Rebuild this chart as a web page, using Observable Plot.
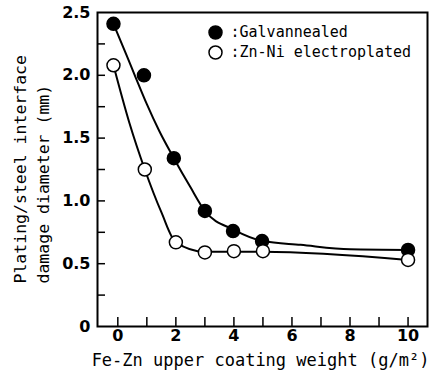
<!DOCTYPE html>
<html><head><meta charset="utf-8">
<script src="https://cdn.jsdelivr.net/npm/d3@7"></script>
<script src="https://cdn.jsdelivr.net/npm/@observablehq/plot@0.6"></script>
<style>body{margin:0;background:#fff}</style>
</head><body><div id="chart"></div>
<script>
// Measured points
const galvX = [-0.15, 0.9, 1.93, 3.0, 3.97, 4.97, 10.0];
const galvY = [2.41, 2.0, 1.34, 0.92, 0.76, 0.68, 0.61];
const znniX = [-0.15, 0.93, 2.0, 3.0, 4.0, 5.0, 10.0];
const znniY = [2.08, 1.25, 0.67, 0.59, 0.60, 0.60, 0.53];
// Fitted curves as drawn in the figure
const galvFitX = [-0.15, 0.3, 0.62, 1.0, 1.42, 1.93, 2.5, 3.0, 4.0, 5.0, 6.3, 8.0, 10.0];
const galvFitY = [2.41, 2.16, 1.98, 1.77, 1.56, 1.34, 1.11, 0.92, 0.77, 0.68, 0.65, 0.615, 0.61];
const znniFitX = [-0.15, 0.4, 0.93, 1.5, 2.0, 3.0, 4.0, 5.0, 10.0];
const znniFitY = [2.08, 1.62, 1.25, 0.91, 0.67, 0.595, 0.595, 0.595, 0.53];
// Axes
const xTickValues = [0, 2, 4, 6, 8, 10];
const xTickLabels = ["0", "2", "4", "6", "8", "10"];
const xMinorTicks = [0, 1, 2, 3, 4, 5, 6, 7, 8, 9, 10];
const yTickValues = [0, 0.5, 1.0, 1.5, 2.0, 2.5];
const yTickLabels = ["0", "0.5", "1.0", "1.5", "2.0", "2.5"];
const yMinorTicks = [0.25, 0.5, 0.75, 1.0, 1.25, 1.5, 1.75, 2.0, 2.25];
const xLabel = "Fe-Zn upper coating weight (g/m²)";
const yLabel1 = "Plating/steel interface";
const yLabel2 = "damage diameter (mm)";
const legendNames = [":Galvannealed", ":Zn-Ni electroplated"];

const zip = (xs, ys) => xs.map((x, i) => ({x, y: ys[i]}));
const galv = zip(galvX, galvY), znni = zip(znniX, znniY);
const galvFit = zip(galvFitX, galvFitY), znniFit = zip(znniFitX, znniFitY);

const W = 436, H = 379, ML = 97, MR = 9, MT = 12, MB = 53;
const tickFont = {fontSize: 16, fontWeight: "bold", fontFamily: "DejaVu Sans"};

const chart = Plot.plot({
  width: W, height: H,
  marginLeft: ML, marginRight: MR, marginTop: MT, marginBottom: MB,
  style: {fontFamily: "DejaVu Sans Mono", background: "#fff", color: "#000"},
  x: {domain: [-0.7, 10.67]},
  y: {domain: [0, 2.5]},
  marks: [
    Plot.frame({strokeWidth: 2}),
    Plot.axisX(xTickValues, {tickSize: 0, tickPadding: 3, label: null, ...tickFont,
      tickFormat: d => xTickLabels[xTickValues.indexOf(d)]}),
    Plot.axisY(yTickValues, {tickSize: 0, tickPadding: 7, label: null, ...tickFont,
      tickFormat: d => yTickLabels[yTickValues.indexOf(d)]}),
    // inward ticks
    Plot.tickX(xMinorTicks, {x: d => d, insetTop: (H - MT - MB) - 9, strokeWidth: 1.5}),
    Plot.tickY(yMinorTicks, {y: d => d, insetRight: (W - ML - MR) - 8, strokeWidth: 1.5}),
    Plot.line(galvFit, {x: "x", y: "y", curve: "monotone-x", strokeWidth: 2}),
    Plot.line(znniFit, {x: "x", y: "y", curve: "monotone-x", strokeWidth: 2}),
    Plot.dot(galv, {x: "x", y: "y", r: 6.5, fill: "#000", stroke: "#000"}),
    Plot.dot(znni, {x: "x", y: "y", r: 6.5, fill: "#fff", stroke: "#000", strokeWidth: 1.5}),
    // legend
    Plot.dot([0], {frameAnchor: "top-left", dx: 118, dy: 20, r: 6.5, fill: "#000", stroke: "#000"}),
    Plot.dot([0], {frameAnchor: "top-left", dx: 118, dy: 40, r: 6.5, fill: "#fff", stroke: "#000", strokeWidth: 1.5}),
    Plot.text([legendNames[0]], {frameAnchor: "top-left", dx: 133, dy: 20, textAnchor: "start", lineAnchor: "middle", fontSize: 15}),
    Plot.text([legendNames[1]], {frameAnchor: "top-left", dx: 133, dy: 40, textAnchor: "start", lineAnchor: "middle", fontSize: 15}),
    // axis titles
    Plot.text([xLabel], {frameAnchor: "bottom", dy: 34, dx: -2, lineAnchor: "middle", fontSize: 17}),
    Plot.text([yLabel1], {frameAnchor: "bottom-left", dx: -77, dy: -43, rotate: -90, textAnchor: "start", lineAnchor: "middle", fontSize: 16.5}),
    Plot.text([yLabel2], {frameAnchor: "bottom-left", dx: -54, dy: -43, rotate: -90, textAnchor: "start", lineAnchor: "middle", fontSize: 16.5})
  ]
});
document.getElementById("chart").appendChild(chart);
</script>
</body></html>
